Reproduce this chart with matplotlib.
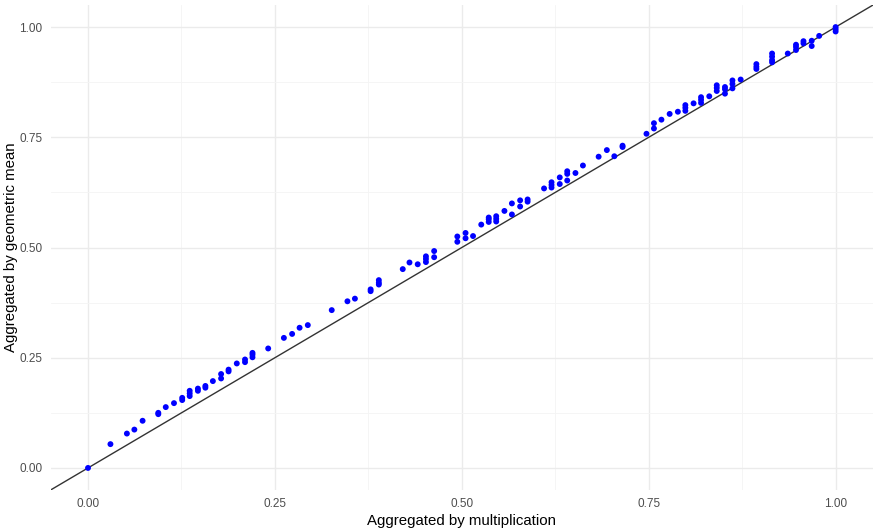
import matplotlib
matplotlib.use("Agg")
import matplotlib.pyplot as plt
import numpy as np

# Aggregated by multiplication (x) and by geometric mean (y)
mult = [0.000, 0.030, 0.052, 0.062, 0.073, 0.094, 0.094, 0.104, 0.115, 0.126, 0.126,
        0.136, 0.136, 0.136, 0.147, 0.147, 0.157, 0.157, 0.167, 0.178, 0.178,
        0.188, 0.188, 0.199, 0.210, 0.210, 0.220, 0.220, 0.220, 0.241, 0.262,
        0.273, 0.283, 0.294, 0.326, 0.347, 0.357, 0.378, 0.378, 0.389, 0.389,
        0.389, 0.421, 0.430, 0.441, 0.452, 0.452, 0.452, 0.463, 0.463, 0.494,
        0.494, 0.505, 0.505, 0.515, 0.526, 0.536, 0.536, 0.536, 0.546, 0.546,
        0.546, 0.557, 0.567, 0.567, 0.578, 0.578, 0.588, 0.588, 0.610, 0.620,
        0.620, 0.620, 0.631, 0.631, 0.641, 0.641, 0.641, 0.652, 0.662, 0.683,
        0.694, 0.704, 0.715, 0.715, 0.747, 0.757, 0.757, 0.767, 0.778, 0.789,
        0.799, 0.799, 0.799, 0.810, 0.820, 0.820, 0.820, 0.831, 0.841, 0.841,
        0.841, 0.852, 0.852, 0.852, 0.862, 0.862, 0.862, 0.873, 0.894, 0.894,
        0.894, 0.915, 0.915, 0.915, 0.915, 0.936, 0.947, 0.947, 0.947, 0.957,
        0.957, 0.968, 0.968, 0.978, 1.000, 1.000, 1.000]
geo = [0.000, 0.054, 0.078, 0.087, 0.107, 0.125, 0.122, 0.138, 0.147, 0.159, 0.154,
       0.175, 0.169, 0.163, 0.180, 0.175, 0.186, 0.182, 0.197, 0.213, 0.203,
       0.223, 0.219, 0.237, 0.246, 0.240, 0.261, 0.257, 0.251, 0.271, 0.295,
       0.304, 0.318, 0.324, 0.358, 0.378, 0.384, 0.405, 0.401, 0.426, 0.420,
       0.416, 0.451, 0.466, 0.462, 0.480, 0.474, 0.467, 0.492, 0.478, 0.525,
       0.513, 0.533, 0.521, 0.526, 0.552, 0.568, 0.564, 0.558, 0.571, 0.565,
       0.559, 0.583, 0.600, 0.575, 0.607, 0.593, 0.609, 0.604, 0.634, 0.648,
       0.642, 0.636, 0.659, 0.644, 0.673, 0.667, 0.652, 0.669, 0.686, 0.706,
       0.721, 0.707, 0.731, 0.728, 0.758, 0.782, 0.770, 0.790, 0.803, 0.808,
       0.823, 0.817, 0.810, 0.827, 0.841, 0.835, 0.828, 0.843, 0.868, 0.862,
       0.855, 0.864, 0.859, 0.849, 0.879, 0.871, 0.861, 0.881, 0.916, 0.910,
       0.905, 0.940, 0.933, 0.925, 0.920, 0.940, 0.960, 0.955, 0.948, 0.968,
       0.963, 0.969, 0.957, 0.980, 1.000, 0.995, 0.990]

ticks = [0.00, 0.25, 0.50, 0.75, 1.00]
tick_labels = ["0.00", "0.25", "0.50", "0.75", "1.00"]
minor_ticks = [0.125, 0.375, 0.625, 0.875]

plt.rcParams['font.family'] = ['Liberation Sans', 'DejaVu Sans']

fig = plt.figure(figsize=(8.73, 5.30), dpi=100)
ax = fig.add_axes([0.058, 0.0755, 0.942, 0.915])

ax.set_xlim(-0.05, 1.05)
ax.set_ylim(-0.05, 1.05)

ax.set_xticks(ticks)
ax.set_xticklabels(tick_labels)
ax.set_yticks(ticks)
ax.set_yticklabels(tick_labels)
ax.set_xticks(minor_ticks, minor=True)
ax.set_yticks(minor_ticks, minor=True)

ax.grid(True, which='major', color='#EBEBEB', linewidth=1.0)
ax.grid(True, which='minor', color='#F4F4F4', linewidth=0.6)
ax.set_axisbelow(True)

for s in ax.spines.values():
    s.set_visible(False)
ax.tick_params(which='both', length=0)
ax.tick_params(axis='both', colors='#4D4D4D', labelsize=8.5, pad=6)

ax.axline((0, 0), slope=1, color='#333333', linewidth=1.0, zorder=2)
ax.scatter(mult, geo, s=18, color='#0000FF', edgecolors='none', zorder=3)

ax.set_xlabel("Aggregated by multiplication", fontsize=10.8, color='black', labelpad=3)
ax.set_ylabel("Aggregated by geometric mean", fontsize=10.8, color='black', labelpad=1)

fig.savefig("out.png", dpi=100)
